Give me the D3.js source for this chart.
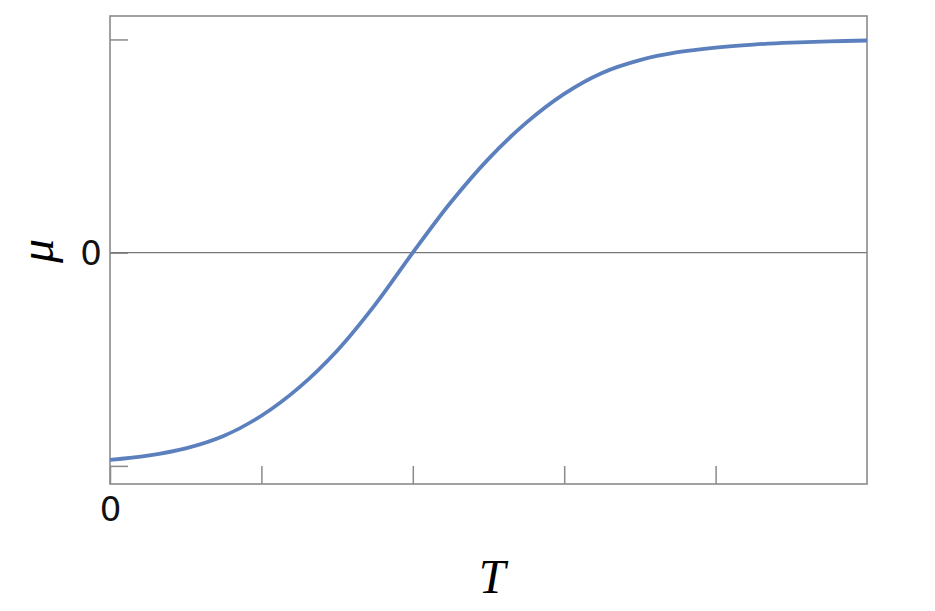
<!DOCTYPE html>
<html>
<head>
<meta charset="utf-8">
<script src="https://cdn.jsdelivr.net/npm/d3@7"></script>
<style>
  body { margin: 0; background: #fff; }
  svg { display: block; }
</style>
</head>
<body>
<div id="chart"></div>
<script>
// values
var tValues = [0, 0.25, 0.5, 0.75, 1, 1.25, 1.5, 1.75, 2, 2.25, 2.5, 2.75, 3, 3.25, 3.5, 3.75, 4, 4.25, 4.5, 4.75, 5];
var muValues = [-0.972, -0.952, -0.918, -0.86, -0.765, -0.632, -0.46, -0.245, 0, 0.235, 0.44, 0.61, 0.745, 0.843, 0.903, 0.94, 0.962, 0.976, 0.985, 0.991, 0.995];
var xTicks = [0, 1, 2, 3, 4];
var yTicks = [-1, 0, 1];

var svgWidth = 935;
var svgHeight = 611;

var margin = {
    top: 16,
    right: 68,
    bottom: 127,
    left: 110
};

var width = svgWidth - margin.left - margin.right;
var height = svgHeight - margin.top - margin.bottom;

var svg = d3.select("#chart")
    .append("svg")
    .attr("width", svgWidth)
    .attr("height", svgHeight);

var chartGroup = svg.append("g")
    .attr("transform", `translate(${margin.left},${margin.top})`);

var data = tValues.map(function(t, i) {
    return { t: t, mu: muValues[i] };
});

var xScale = d3.scaleLinear()
    .domain([0, 5])
    .range([0, width]);

var yScale = d3.scaleLinear()
    .domain([-1.085, 1.11])
    .range([height, 0]);

var frameColor = "#8a8a8a";

// ticks point inwards
var bottomAxis = d3.axisBottom(xScale)
    .tickValues(xTicks)
    .tickSizeInner(-18)
    .tickSizeOuter(0)
    .tickPadding(13)
    .tickFormat(d => d === 0 ? "0" : "");

var leftAxis = d3.axisLeft(yScale)
    .tickValues(yTicks)
    .tickSizeInner(-18)
    .tickSizeOuter(0)
    .tickPadding(8)
    .tickFormat(d => d === 0 ? "0" : "");

var xAxis = chartGroup.append("g")
    .attr("transform", `translate(0, ${height})`)
    .call(bottomAxis);

var yAxis = chartGroup.append("g")
    .call(leftAxis);

[xAxis, yAxis].forEach(function(ax) {
    ax.select(".domain").remove();
    ax.selectAll("line").attr("stroke", frameColor).attr("stroke-width", 1.5);
    ax.selectAll("text")
        .attr("fill", "#111")
        .style("font-family", "'DejaVu Sans', sans-serif")
        .style("font-size", "34px");
});
xAxis.selectAll("text").attr("dy", "0.71em");
yAxis.selectAll("text").attr("dy", "0.36em");

// zero line
chartGroup.append("line")
    .attr("x1", 0)
    .attr("x2", width)
    .attr("y1", yScale(0))
    .attr("y2", yScale(0))
    .attr("stroke", "#777")
    .attr("stroke-width", 1.3);

// frame
chartGroup.append("rect")
    .attr("x", 0)
    .attr("y", 0)
    .attr("width", width)
    .attr("height", height)
    .attr("fill", "none")
    .attr("stroke", frameColor)
    .attr("stroke-width", 1.6);

var line = d3.line()
    .x(d => xScale(d.t))
    .y(d => yScale(d.mu))
    .curve(d3.curveCatmullRom);

chartGroup.append("path")
    .datum(data)
    .attr("d", line)
    .attr("fill", "none")
    .attr("stroke", "#5b80bd")
    .attr("stroke-width", 3.8);

// axis labels
svg.append("text")
    .attr("x", 492)
    .attr("y", 593)
    .attr("text-anchor", "middle")
    .style("font-family", "'Liberation Serif', serif")
    .style("font-style", "italic")
    .style("font-size", "48px")
    .text("T");

svg.append("text")
    .attr("transform", "translate(53, 251) rotate(-90)")
    .attr("text-anchor", "middle")
    .style("font-family", "'Liberation Serif', serif")
    .style("font-style", "italic")
    .style("font-size", "48px")
    .text("μ");
</script>
</body>
</html>
